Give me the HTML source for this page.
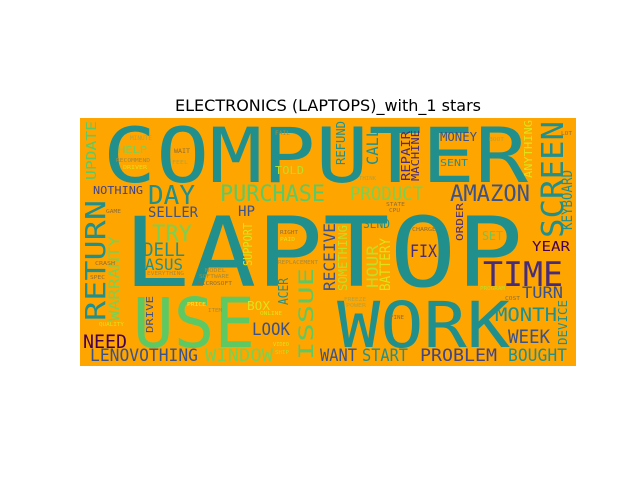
<!DOCTYPE html>
<html><head><meta charset="utf-8"><style>
html,body{margin:0;padding:0;background:#fff;width:640px;height:480px;overflow:hidden}
svg{display:block}
</style></head><body>
<svg id="chart" width="640" height="480" xmlns="http://www.w3.org/2000/svg">
<text x="328" y="111" text-anchor="middle" font-family="DejaVu Sans, Liberation Sans, sans-serif" font-size="16" fill="#000">ELECTRONICS (LAPTOPS)_with_1 stars</text>
<rect x="80" y="118" width="496" height="248" fill="#ffa500"/>
<g id="words"></g>
</svg>
<script>
// word, box x1, y1, x2, y2 (cap box), color, vertical
const words = [
["COMPUTER",103,120,528,182,"#21908d",0],
["LAPTOP",123,207,523,286,"#21908d",0],
["USE",133,291,255,347,"#5ec962",0],
["WORK",337,295,510,347,"#21908d",0],
["RETURN",82,200,105,321,"#21908d",1],
["SCREEN",538,121,563,238,"#21908d",1],
["TIME",483,258,563,286,"#472c7a",0],
["AMAZON",450,183,530,201,"#3b528b",0],
["PRODUCT",350,185,423,200,"#7ad151",0],
["PURCHASE",220,183,325,201,"#5ec962",0],
["DAY",148,183,195,204,"#21908d",0],
["TRY",152,223,192,241,"#7ad151",0],
["DELL",143,241,185,256,"#21908d",0],
["ASUS",145,257,183,270,"#21908d",0],
["HP",238,204,255,216,"#3b528b",0],
["SELLER",148,205,198,217,"#3b528b",0],
["NOTHING",93,185,143,194,"#414487",0],
["UPDATE",85,121,96,180,"#5ec962",1],
["WARRANTY",107,236,119,321,"#7ad151",1],
["NEED",83,333,127,348,"#440154",0],
["LENOVOTHING",90,347,198,361,"#3b528b",0],
["WINDOW",205,347,273,361,"#7ad151",0],
["WANT",320,347,357,361,"#3b528b",0],
["START",362,347,408,361,"#21908d",0],
["PROBLEM",420,347,497,361,"#414487",0],
["BOUGHT",508,347,567,361,"#21908d",0],
["MONTH",495,306,557,321,"#21908d",0],
["WEEK",508,328,550,343,"#3b528b",0],
["TURN",522,285,563,298,"#3b528b",0],
["YEAR",532,240,570,251,"#440154",0],
["DEVICE",557,300,567,345,"#21908d",1],
["FIX",410,243,437,257,"#472c7a",0],
["ORDER",455,203,463,241,"#472c7a",1],
["SET",482,230,503,240,"#5ec962",0],
["SEND",363,218,390,228,"#21908d",0],
["CALL",365,128,378,165,"#21908d",1],
["REFUND",335,121,345,165,"#21908d",1],
["REPAIR",400,131,410,181,"#472c7a",1],
["MACHINE",410,130,419,181,"#472c7a",1],
["MONEY",440,131,477,141,"#3b528b",0],
["SENT",440,158,468,166,"#21908d",0],
["ANYTHING",523,120,532,178,"#dde318",1],
["KEYBOARD",560,170,572,230,"#21908d",1],
["ISSUE",297,268,313,360,"#5ec962",1],
["ACER",277,278,288,305,"#21908d",1],
["LOOK",252,321,290,335,"#3b528b",0],
["BOX",247,300,270,310,"#dde318",0],
["SUPPORT",242,223,252,266,"#dde318",1],
["RECEIVE",322,223,335,291,"#3b528b",1],
["SOMETHING",337,225,347,291,"#bddf26",1],
["HOUR",365,245,378,288,"#bddf26",1],
["BATTERY",378,238,390,291,"#dde318",1],
["DRIVE",145,296,153,333,"#3b528b",1],
["HELP",118,145,147,153,"#7ad151",0],
["TOLD",275,165,304,174,"#bddf26",0],
["MINUTE",130,135,152,140,"#b5a03a",0],
["WAIT",174,148,190,153,"#8a6e3a",0],
["FEEL",172,160,188,164,"#b5a03a",0],
["RECOMMEND",116,158,150,162,"#a68a3a",0],
["DRIVER",123,165,147,169,"#dde318",0],
["EVERYTHING",147,271,184,275,"#a68a3a",0],
["MODEL",205,268,226,272,"#a68a3a",0],
["SOFTWARE",199,274,229,278,"#a68a3a",0],
["MICROSOFT",198,281,232,285,"#8a6e3a",0],
["PRICE",187,302,206,306,"#fde725",0],
["ITEM",208,308,222,312,"#a68a3a",0],
["ONLINE",260,311,282,315,"#dde318",0],
["REPLACEMENT",278,260,318,264,"#a68a3a",0],
["CHARGE",412,227,436,231,"#8a6e3a",0],
["STATE",386,202,405,206,"#8a6e3a",0],
["CPU",389,208,400,212,"#8a6e3a",0],
["THINK",359,176,376,180,"#b5a03a",0],
["BOOT",489,137,504,141,"#b5a03a",0],
["LOT",561,131,572,135,"#8a6e3a",0],
["FREEZE",344,297,366,301,"#b5a03a",0],
["POWER",346,303,366,307,"#b5a03a",0],
["FINE",390,315,404,319,"#8a6e3a",0],
["PROGRAM",480,286,505,290,"#bddf26",0],
["COST",505,296,520,300,"#8a6e3a",0],
["GAME",106,209,121,213,"#8a6e3a",0],
["CRASH",95,261,115,265,"#8a6e3a",0],
["SPEC",90,275,105,279,"#8a6e3a",0],
["QUALITY",99,322,124,326,"#dde318",0],
["VIDEO",273,342,289,346,"#dde318",0],
["SHIP",275,350,289,354,"#bddf26",0],
["FAIL",275,130,290,135,"#a68a3a",0],
["RIGHT",280,230,298,234,"#8a6e3a",0],
["PAID",280,237,295,241,"#dde318",0]
];
const g = document.getElementById('words');
const NS = "http://www.w3.org/2000/svg";
const slug = s => s.toLowerCase();
for (const w of words) {
  const [txt,x1,y1,x2,y2,col,vert] = w;
  const t = document.createElementNS(NS,'text');
  
  
  t.textContent = txt;
  t.setAttribute('font-family', 'DejaVu Sans Mono, Liberation Mono, monospace');
  t.setAttribute('fill', col);
  t.setAttribute('lengthAdjust', 'spacingAndGlyphs');
  let cap, len;
  if (vert) { cap = x2 - x1; len = y2 - y1; t.setAttribute('transform', 'translate(' + x2 + ',' + y2 + ') rotate(-90)'); t.setAttribute('x', 0); t.setAttribute('y', 0); }
  else { cap = y2 - y1; len = x2 - x1; t.setAttribute('x', x1); t.setAttribute('y', y2); }
  t.setAttribute('font-size', (cap / 0.82).toFixed(1));
  t.setAttribute('textLength', len);
  g.appendChild(t);
}
</script>
</body></html>
